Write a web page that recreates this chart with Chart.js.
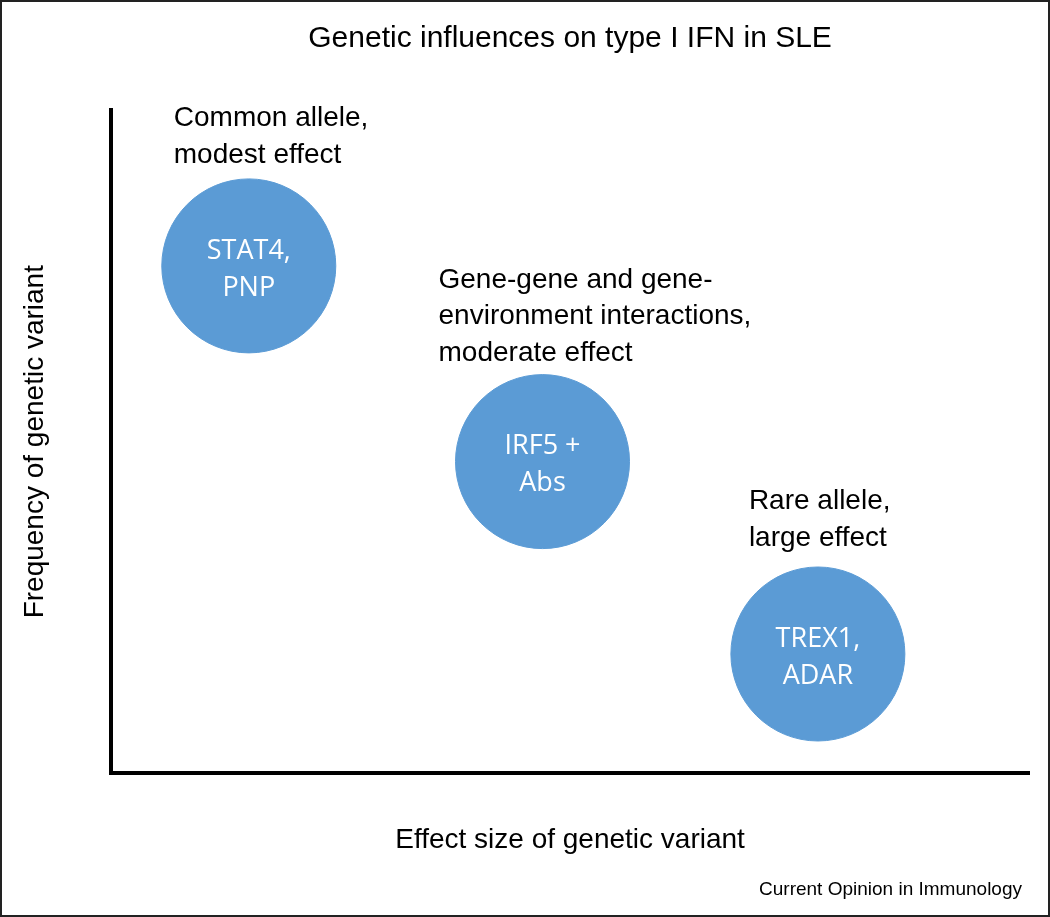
<!DOCTYPE html>
<html>
<head>
<meta charset="utf-8">
<title>Genetic influences on type I IFN in SLE</title>
<script src="https://cdn.jsdelivr.net/npm/chart.js@4.4.1/dist/chart.umd.min.js"></script>
<style>
  html, body { margin: 0; padding: 0; background: #fff; }
  canvas { display: block; }
</style>
</head>
<body>
<canvas id="bubbles" width="1050" height="917"></canvas>
<script>
// data (both axes are 0..10, no ticks shown)
const genes = [["STAT4,", "PNP"], ["IRF5 +", "Abs"], ["TREX1,", "ADAR"]];
const effectSize = [1.5, 4.7, 7.7];
const frequency = [7.65, 4.7, 1.8];
const notes = [
    ["Common allele,", "modest effect"],
    ["Gene-gene and gene-", "environment interactions,", "moderate effect"],
    ["Rare allele,", "large effect"]
];

// where each note starts, relative to its bubble (x offset, last baseline offset)
const noteOffsets = [[-75, -103], [-104, -101], [-69, -108]];

const sans = "'Liberation Sans', Arial, Helvetica, sans-serif";
Chart.defaults.font.family = sans;
Chart.defaults.color = "#000";

// text on and above the bubbles, frame and source line
const labelsPlugin = {
    id: "labels",
    afterDatasetsDraw(chart) {
        const ctx = chart.ctx;
        const points = chart.getDatasetMeta(0).data;
        ctx.save();

        // gene names inside the bubbles
        ctx.fillStyle = "#fff";
        ctx.font = "27px 'Open Sans', sans-serif";
        ctx.textAlign = "center";
        ctx.textBaseline = "middle";
        points.forEach((p, i) => {
            ctx.fillText(genes[i][0], p.x, p.y - 15);
            ctx.fillText(genes[i][1], p.x, p.y + 22);
        });

        // notes above the bubbles
        ctx.fillStyle = "#000";
        ctx.font = "28px " + sans;
        ctx.textAlign = "left";
        ctx.textBaseline = "alphabetic";
        points.forEach((p, i) => {
            const lines = notes[i];
            const n = lines.length;
            lines.forEach((line, j) => {
                const y = p.y + noteOffsets[i][1] - (n - 1 - j) * 36.5;
                ctx.fillText(line, p.x + noteOffsets[i][0], y);
            });
        });

        // source
        ctx.font = "19px " + sans;
        ctx.textAlign = "right";
        ctx.textBaseline = "middle";
        ctx.fillText("Current Opinion in Immunology", 1022, 890);

        // frame
        ctx.strokeStyle = "#222";
        ctx.lineWidth = 2;
        ctx.strokeRect(1, 1, chart.width - 2, chart.height - 2);
        ctx.restore();
    }
};

new Chart(document.getElementById("bubbles"), {
    type: "bubble",
    data: {
        datasets: [{
            label: "Genetic variants",
            data: effectSize.map((x, i) => ({ x: x, y: frequency[i] })),
            radius: 87,
            backgroundColor: "#5b9bd5",
            borderColor: "#5b9bd5",
            borderWidth: 1,
            hoverRadius: 0,
            hoverBorderWidth: 1
        }]
    },
    options: {
        responsive: false,
        animation: false,
        events: [],
        layout: {
            autoPadding: false,
            padding: { left: 0, right: 21, top: 0, bottom: 0 }
        },
        plugins: {
            legend: { display: false },
            tooltip: { enabled: false },
            title: {
                display: true,
                fullSize: false,
                text: "Genetic influences on type I IFN in SLE",
                color: "#000",
                font: { size: 30, weight: "normal", lineHeight: 1.2 },
                padding: { top: 21, bottom: 53 }
            }
        },
        scales: {
            x: {
                min: 0,
                max: 10,
                grid: { display: false },
                ticks: { display: false },
                border: { display: true, color: "#000", width: 4 },
                title: {
                    display: true,
                    text: "Effect size of genetic variant",
                    color: "#000",
                    font: { size: 28, lineHeight: 1.2 },
                    padding: { top: 42, bottom: 60 }
                }
            },
            y: {
                min: 0,
                max: 10,
                grid: { display: false },
                ticks: { display: false },
                border: { display: true, color: "#000", width: 4 },
                title: {
                    display: true,
                    text: "Frequency of genetic variant",
                    color: "#000",
                    font: { size: 28, lineHeight: 1.2 },
                    padding: { top: 18, bottom: 51.5 }
                }
            }
        }
    },
    plugins: [labelsPlugin]
});
</script>
</body>
</html>
